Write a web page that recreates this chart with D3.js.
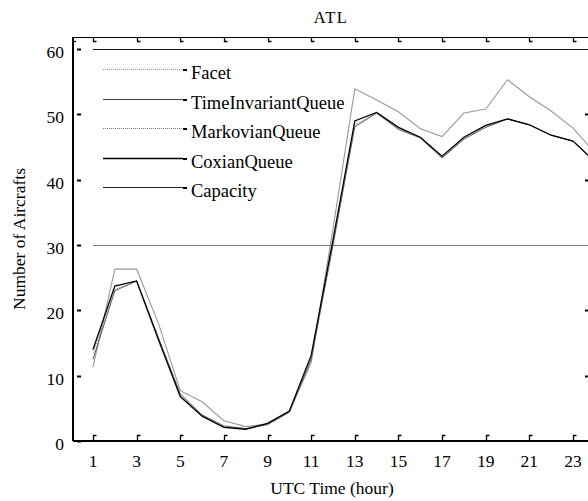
<!DOCTYPE html>
<html>
<head>
<meta charset="utf-8">
<script src="https://cdn.jsdelivr.net/npm/d3@7"></script>
<style>
	body { margin: 0; background: #fff; }
	svg { display: block; font-family: 'Liberation Serif', 'Times New Roman', serif; }
</style>
</head>
<body>
<svg id="chart" width="588" height="501"></svg>
<script>
// hours and series values
var aHours = [1,2,3,4,5,6,7,8,9,10,11,12,13,14,15,16,17,18,19,20,21,22,23,24];
var aFacet = [11.3,26.3,26.3,18.0,7.7,6.0,3.1,2.2,2.6,4.5,12.0,32.5,53.9,52.2,50.4,47.8,46.6,50.2,50.8,55.3,52.7,50.5,47.9,44.1];
var aTimeInvariant = [12.5,23.0,24.5,15.8,7.2,4.0,2.3,1.9,2.5,4.4,12.5,30.0,48.1,50.2,47.7,46.4,43.3,46.2,48.0,49.3,48.4,46.8,45.9,42.8];
var aMarkovian = [13.4,23.2,24.4,15.7,7.1,3.9,2.2,1.8,2.6,4.5,12.8,30.3,48.4,50.2,47.8,46.5,43.5,46.4,48.2,49.3,48.4,46.8,45.9,42.8];
var aCoxian = [14.0,23.7,24.5,15.5,6.8,3.8,2.1,1.8,2.7,4.6,13.1,30.8,49.0,50.3,48.0,46.5,43.6,46.5,48.3,49.3,48.4,46.8,45.9,42.8];
var aCapacityLevels = [60, 30];
var aYTicks = [0,10,20,30,40,50,60];
var aXTicks = [1,3,5,7,9,11,13,15,17,19,21,23];
var aLegend = ['Facet','TimeInvariantQueue','MarkovianQueue','CoxianQueue','Capacity'];

var sSvg = d3.select('#chart');

var nLeft = 73, nRight = 600, nTop = 37, nBottom = 441;

var xScale = d3.scaleLinear().domain([1, 23]).range([93, 573]);
var yScale = d3.scaleLinear().domain([0, 60]).range([441, 49]);

function Crisp(v) { return Math.round(v) + 0.5; }

sSvg.append('defs')
	.append('clipPath')
		.attr('id','plotclip')
	.append('rect')
		.attr('x', nLeft)
		.attr('y', nTop)
		.attr('width', nRight - nLeft)
		.attr('height', nBottom - nTop);

var sPlot = sSvg.append('g').attr('clip-path','url(#plotclip)');

// capacity reference lines
sPlot.selectAll('.cap')
	.data(aCapacityLevels)
	.enter()
		.append('line')
		.attr('x1', xScale(1))
		.attr('x2', xScale(24))
		.attr('y1', function(d) { return Crisp(yScale(d)); })
		.attr('y2', function(d) { return Crisp(yScale(d)); })
		.attr('stroke', function(d, i) { return i == 0 ? '#111' : '#808080'; })
		.attr('stroke-width', 1);

var fnLine = d3.line()
	.x(function(d, i) { return xScale(aHours[i]); })
	.y(function(d) { return yScale(d); });

var aSeries = [
	{ values: aFacet, color: '#9a9a9a', width: 1.1, dash: null },
	{ values: aTimeInvariant, color: '#555', width: 1, dash: null },
	{ values: aMarkovian, color: '#888', width: 1, dash: '1,1' },
	{ values: aCoxian, color: '#000', width: 1.3, dash: null }
];

aSeries.forEach(function(s)
{
	sPlot.append('path')
		.attr('d', fnLine(s.values))
		.attr('fill','none')
		.attr('stroke', s.color)
		.attr('stroke-width', s.width)
		.attr('stroke-dasharray', s.dash);
});

// frame
var sFrame = sSvg.append('g').attr('stroke','#000').attr('fill','none');
sFrame.append('line').attr('x1', nLeft).attr('x2', nLeft).attr('y1', nTop).attr('y2', nBottom).attr('stroke-width', 2);
sFrame.append('line').attr('x1', nLeft).attr('x2', 588).attr('y1', Crisp(nTop)).attr('y2', Crisp(nTop)).attr('stroke-width', 1.2);
sFrame.append('line').attr('x1', nLeft).attr('x2', 588).attr('y1', nBottom).attr('y2', nBottom).attr('stroke-width', 2);

// small hooked ticks on top and bottom
aXTicks.forEach(function(t)
{
	var x = Crisp(xScale(t));
	sFrame.append('path').attr('d', 'M'+x+','+nTop+'V'+(nTop+4.5)+'H'+(x+3)).attr('stroke-width', 1.3);
	sFrame.append('path').attr('d', 'M'+x+','+nBottom+'V'+(nBottom-5.5)+'H'+(x+3)).attr('stroke-width', 1.3);
});
sFrame.append('path').attr('d', 'M'+nLeft+','+(nTop+4.5)+'H'+(nLeft+3)).attr('stroke-width', 1.3);

// left and right ticks
aYTicks.forEach(function(t)
{
	var y = Crisp(yScale(t));
	sFrame.append('line').attr('x1', nLeft+4).attr('x2', nLeft+8).attr('y1', y).attr('y2', y).attr('stroke-width', 2);
	if (t > 0 && t < 60 && t != 30)
		sFrame.append('line').attr('x1', 585).attr('x2', 588).attr('y1', y).attr('y2', y).attr('stroke-width', 2);
});

// tick labels
sSvg.selectAll('.ylab')
	.data(aYTicks)
	.enter()
		.append('text')
		.attr('x', 64)
		.attr('y', function(d) { return yScale(d) + 9; })
		.attr('text-anchor','end')
		.attr('font-size', 17.5)
		.text(function(d) { return d; });

sSvg.selectAll('.xlab')
	.data(aXTicks)
	.enter()
		.append('text')
		.attr('x', function(d) { return xScale(d); })
		.attr('y', 467)
		.attr('text-anchor','middle')
		.attr('font-size', 17.5)
		.text(function(d) { return d; });

// titles
sSvg.append('text').attr('x', 331).attr('y', 23).attr('text-anchor','middle').attr('font-size', 16.5).attr('letter-spacing', 1.5).text('ATL');
sSvg.append('text').attr('x', 332).attr('y', 494).attr('text-anchor','middle').attr('font-size', 17.5).text('UTC Time (hour)');
sSvg.append('text')
	.attr('transform','translate(25,239) rotate(-90)')
	.attr('text-anchor','middle')
	.attr('font-size', 17.5)
	.text('Number of Aircrafts');

// legend
var aLegendStyle = [
	{ color: '#999', width: 1, dash: '1,1' },
	{ color: '#444', width: 1, dash: null },
	{ color: '#777', width: 1, dash: '1,1' },
	{ color: '#000', width: 1.3, dash: null },
	{ color: '#222', width: 1.1, dash: null }
];
var sLegend = sSvg.selectAll('.legend')
	.data(aLegend)
	.enter()
		.append('g')
		.attr('transform', function(d, i) { return 'translate(0,' + Crisp(69 + i * 29.5) + ')'; });

sLegend.append('line')
	.attr('x1', 103).attr('x2', 183).attr('y1', 0).attr('y2', 0)
	.attr('stroke', function(d, i) { return aLegendStyle[i].color; })
	.attr('stroke-width', function(d, i) { return aLegendStyle[i].width; })
	.attr('stroke-dasharray', function(d, i) { return aLegendStyle[i].dash; });
sLegend.append('line')
	.attr('x1', 183).attr('x2', 187).attr('y1', 0.5).attr('y2', 0.5)
	.attr('stroke','#000').attr('stroke-width', 2);
sLegend.append('text')
	.attr('x', 191).attr('y', 9.5)
	.attr('font-size', 18.5)
	.text(function(d) { return d; });
</script>
</body>
</html>
